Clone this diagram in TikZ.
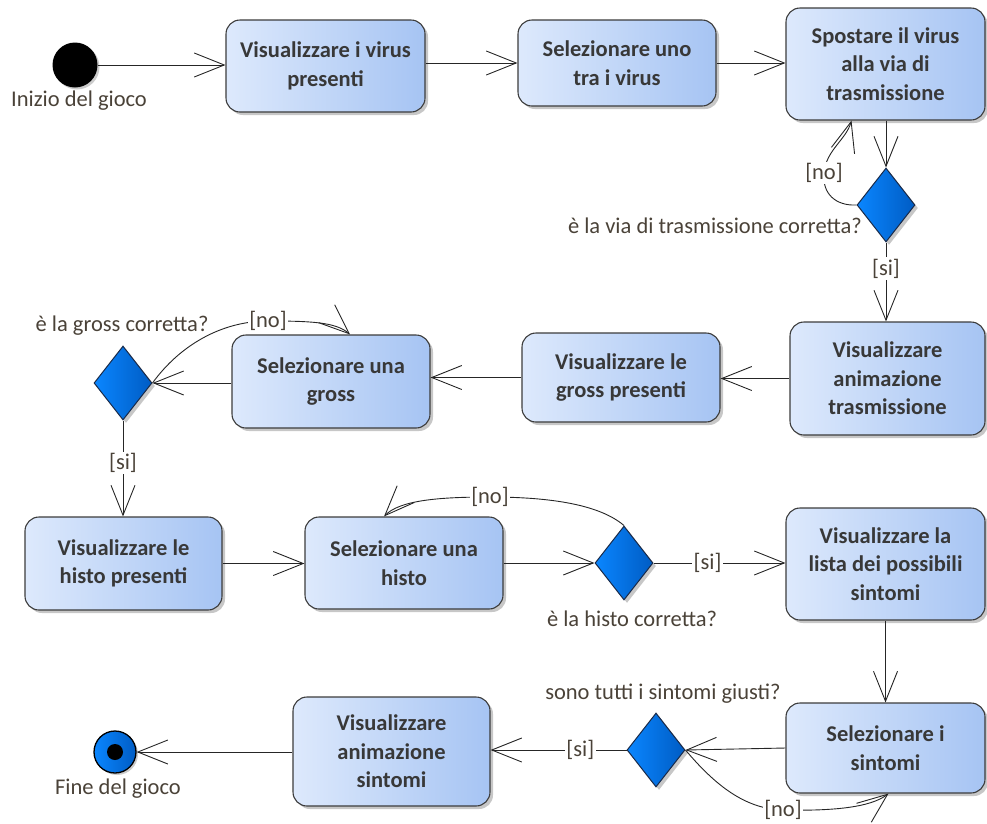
\documentclass[tikz,border=0pt]{standalone}
\usepackage{fontspec}
\setmainfont{Carlito}
\usetikzlibrary{arrows.meta,shapes.geometric,shadows,calc}
\definecolor{boxL}{HTML}{DDE9FC}
\definecolor{boxR}{HTML}{A6C4F3}
\definecolor{boxline}{HTML}{3C3C3C}
\definecolor{boxtext}{HTML}{383838}
\definecolor{diamL}{HTML}{0A86FF}
\definecolor{diamR}{HTML}{005CC4}
\definecolor{diamline}{HTML}{1A2A48}
\definecolor{lbltext}{HTML}{4A4238}
\begin{document}
\begin{tikzpicture}[x=1pt,y=-1pt,
  actbox/.style={rectangle, rounded corners=14pt, draw=boxline, line width=1.1pt,
    left color=boxL, right color=boxR,
    drop shadow={shadow xshift=3pt, shadow yshift=-3pt, fill=black, opacity=0.22},
    font=\bfseries\fontsize{22.5}{28.5}\selectfont, text=boxtext, align=center, inner sep=0pt},
  decision/.style={diamond, draw=diamline, line width=1pt, left color=diamL, right color=diamR,
    minimum width=58pt, minimum height=74pt, inner sep=0pt,
    drop shadow={shadow xshift=3pt, shadow yshift=-3pt, fill=black, opacity=0.22}},
  flow/.style={draw=black!85, line width=0.9pt,
    -{Straight Barb[length=30pt,width=24pt,line width=0.9pt]}},
  guard/.style={fill=white, inner sep=1.5pt, text=lbltext, font=\fontsize{22.5}{26}\selectfont},
  caption/.style={text=lbltext, font=\fontsize{22.5}{26}\selectfont, inner sep=0pt}
]
\useasboundingbox (0,0) rectangle (987,823);

% initial and final states
\node[circle, fill=black, minimum size=45pt, inner sep=0pt,
  drop shadow={shadow xshift=2pt, shadow yshift=-2pt, fill=black, opacity=0.2}] (start) at (75,65) {};
\node[caption] (startlbl) at (79,101) {Inizio del gioco};

\node[circle, draw=black, line width=1.3pt, left color=diamL, right color=diamR,
  minimum size=42pt, inner sep=0pt,
  drop shadow={shadow xshift=2pt, shadow yshift=-2pt, fill=black, opacity=0.2}] (stop) at (115,752) {};
\node[circle, fill=black, minimum size=16pt, inner sep=0pt] (stopdot) at (stop) {};
\node[caption] (stoplbl) at (118,789) {Fine del gioco};

% actions
\node[actbox, minimum width=199pt, minimum height=92pt]  (b1)  at (325.5,66)  {Visualizzare i virus\\presenti};
\node[actbox, minimum width=198pt, minimum height=86pt]  (b2)  at (617,63)    {Selezionare uno\\tra i virus};
\node[actbox, minimum width=199pt, minimum height=112pt] (b3)  at (885.5,64)  {Spostare il virus\\alla via di\\trasmissione};
\node[actbox, minimum width=195pt, minimum height=113pt] (b4)  at (887.5,378.5) {Visualizzare\\animazione\\trasmissione};
\node[actbox, minimum width=198pt, minimum height=89pt]  (b5)  at (621,377.5) {Visualizzare le\\gross presenti};
\node[actbox, minimum width=198pt, minimum height=93pt]  (b6)  at (331,381.5) {Selezionare una\\gross};
\node[actbox, minimum width=197pt, minimum height=93pt]  (b7)  at (123.5,563.5) {Visualizzare le\\histo presenti};
\node[actbox, minimum width=198pt, minimum height=92pt]  (b8)  at (404,563)   {Selezionare una\\histo};
\node[actbox, minimum width=199pt, minimum height=112pt] (b9)  at (885.5,564) {Visualizzare la\\lista dei possibili\\sintomi};
\node[actbox, minimum width=199pt, minimum height=90pt]  (b10) at (885.5,748) {Selezionare i\\sintomi};
\node[actbox, minimum width=197pt, minimum height=109pt] (b11) at (391.5,751.5) {Visualizzare\\animazione\\sintomi};

% decisions
\node[decision] (d1) at (886,205) {};
\node[decision] (d2) at (123,383) {};
\node[decision] (d3) at (624,563) {};
\node[decision] (d4) at (656,750) {};
\node[caption, anchor=east] (q1) at (862,226) {è la via di trasmissione corretta?};
\node[caption] (q2) at (122,326) {è la gross corretta?};
\node[caption] (q3) at (632,619) {è la histo corretta?};
\node[caption] (q4) at (663,694) {sono tutti i sintomi giusti?};

% control flow
\draw[flow] (start) -- (start -| b1.west);
\draw[flow] (b1.east |- b2) -- (b2.west);
\draw[flow] (b2.east) -- (b2 -| b3.west);
\draw[flow] (b3.south -| d1) -- (d1.north);
\draw[flow] (d1.south) -- node[guard, pos=0.33] {[si]} (d1 |- b4.north);
\draw[flow] (d1.west) .. controls (836,206) and (822,194) .. (824,173) node[guard] {[no]}
  .. controls (826,150) and (846,140) .. ($(b3.south)+(-34,0)$);
\draw[flow] (b4.west) -- (b4 -| b5.east);
\draw[flow] (b5.west) -- (b5 -| b6.east);
\draw[flow] (b6.west |- d2) -- (d2.east);
\draw[flow] (d2.east) .. controls (180,345) and (222,321) .. (268,321) node[guard] {[no]}
  .. controls (310,321) and (336,322) .. ($(b6.north)+(19,0)$);
\draw[flow] (d2.south) -- node[guard, pos=0.44] {[si]} (d2 |- b7.north);
\draw[flow] (b7.east) -- (b7 -| b8.west);
\draw[flow] (b8.east) -- (b8 -| d3.west);
\draw[flow] (d3.north) .. controls (600,505) and (552,497) .. (490,497) node[guard] {[no]}
  .. controls (440,497) and (400,500) .. ($(b8.north)+(-20,0)$);
\draw[flow] (d3.east) -- node[guard, pos=0.41] {[si]} (d3 -| b9.west);
\draw[flow] (b9.south) -- (b10.north);
\draw[flow] (b10.west) -- (d4.east);
\draw[flow] (d4.east) .. controls (715,785) and (745,809) .. (783,810) node[guard] {[no]}
  .. controls (830,811) and (870,808) .. ($(b10.south)+(3,0)$);
\draw[flow] (d4.west) -- node[guard, pos=0.34] {[si]} (d4 -| b11.east);
\draw[flow] (b11.west |- stop) -- (stop.east);
\end{tikzpicture}
\end{document}
